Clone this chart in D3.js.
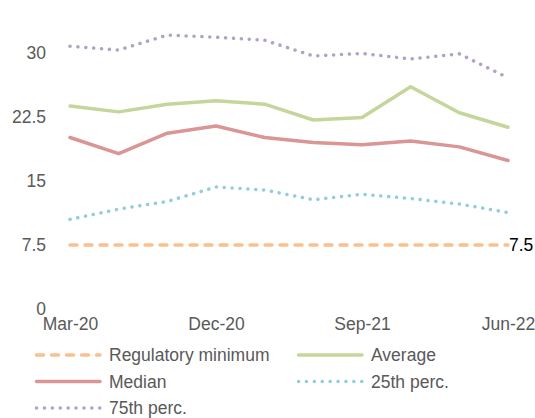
<!DOCTYPE html>
<html><head><meta charset="utf-8">
<script src="https://cdn.jsdelivr.net/npm/d3@7"></script>
<style>body{margin:0;background:#fff}svg{display:block}text{font-family:"Liberation Sans",Arial,sans-serif}</style>
</head><body><svg id="c" width="535" height="418"></svg>
<script>
const categories = ["Mar-20","Jun-20","Sep-20","Dec-20","Mar-21","Jun-21","Sep-21","Dec-21","Mar-22","Jun-22"];
const regMin = [7.5,7.5,7.5,7.5,7.5,7.5,7.5,7.5,7.5,7.5];
const average = [23.8,23.1,24.0,24.4,24.0,22.15,22.45,26.05,23.0,21.3];
const median = [20.1,18.2,20.6,21.45,20.1,19.5,19.25,19.7,19.0,17.4];
const p25 = [10.5,11.7,12.6,14.3,13.95,12.8,13.45,12.95,12.3,11.3];
const p75 = [30.8,30.35,32.1,31.85,31.5,29.65,29.95,29.3,29.9,27.1];
const yTicks = [0,7.5,15,22.5,30];
const xTickLabels = ["Mar-20","Dec-20","Sep-21","Jun-22"];

const FS = "17.5px";
const series = [
  {name:"Regulatory minimum", values:regMin, color:"#FAC090", dash:"7,8", width:3.5},
  {name:"Average", values:average, color:"#C3D69B", dash:null, width:3.5},
  {name:"Median", values:median, color:"#D99694", dash:null, width:3.5},
  {name:"25th perc.", values:p25, color:"#93CDDD", dash:"0.1,7.8", width:3.5},
  {name:"75th perc.", values:p75, color:"#B3A2C7", dash:"0.1,7.8", width:3.5}
];

const svg = d3.select("#c");
const x = d3.scalePoint().domain(categories).range([70, 508]);
const y = d3.scaleLinear().domain([0, 30]).range([309, 53]);

const yAxis = d3.axisLeft(y).tickValues(yTicks).tickSize(0).tickPadding(0).tickFormat(d => d);
const gy = svg.append("g").attr("transform","translate(46,0)").call(yAxis);
gy.select(".domain").remove();
gy.selectAll("text").attr("fill","#595959").style("font-size",FS).attr("dy","0.32em");

const xAxis = d3.axisBottom(x).tickValues(xTickLabels).tickSize(0).tickPadding(0);
const gx = svg.append("g").attr("transform","translate(0,318)").call(xAxis);
gx.select(".domain").remove();
gx.selectAll("text").attr("fill","#595959").style("font-size",FS).attr("dy","0.71em");

const line = d3.line().x((d,i)=>x(categories[i])).y(d=>y(d));
[series[0], series[3], series[4], series[1], series[2]].forEach(s => {
  svg.append("path").datum(s.values).attr("d", line)
    .attr("fill","none").attr("stroke", s.color).attr("stroke-width", s.width)
    .attr("stroke-linecap","round").attr("stroke-linejoin","round")
    .attr("stroke-dasharray", s.dash);
});

svg.append("text").attr("x", x(categories[categories.length-1])+1).attr("y", y(regMin[regMin.length-1]))
  .attr("dy","0.35em").attr("fill","#000").style("font-size",FS).text(regMin[regMin.length-1]);

const legend = [
  {s:series[0], lx:35, ly:355}, {s:series[1], lx:297, ly:355},
  {s:series[2], lx:35, ly:381.5}, {s:series[3], lx:297, ly:381.5},
  {s:series[4], lx:35, ly:408}
];
legend.forEach(l => {
  svg.append("line").attr("x1", l.lx+1.5).attr("x2", l.lx+65).attr("y1", l.ly).attr("y2", l.ly)
    .attr("stroke", l.s.color).attr("stroke-width", l.s.width).attr("stroke-linecap","round")
    .attr("stroke-dasharray", l.s.dash);
  svg.append("text").attr("x", l.lx+74).attr("y", l.ly).attr("dy","0.35em")
    .attr("fill","#595959").style("font-size",FS).text(l.s.name);
});
</script></body></html>
